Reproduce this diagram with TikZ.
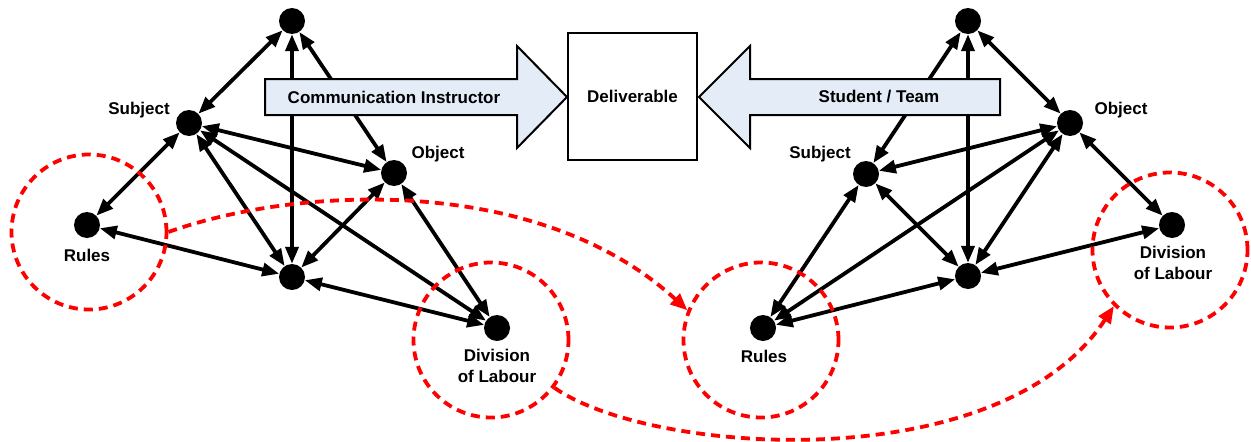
\documentclass[tikz,border=0pt]{standalone}
\usepackage{fontspec}
\setmainfont{Liberation Sans}
\usetikzlibrary{arrows.meta}
\definecolor{arrowfill}{RGB}{228,236,247}
\tikzset{
  dot/.style={circle, fill=black, inner sep=0pt, minimum size=26pt},
  lbl/.style={font=\fontsize{17}{21}\selectfont\bfseries, inner sep=0pt, align=center},
  link/.style={line width=3.8pt, {Triangle[length=17pt,width=13pt]}-{Triangle[length=17pt,width=13pt]}},
  bigarrow/.style={draw=black, line width=2pt, fill=arrowfill, line join=miter},
  zone/.style={circle, draw=red, line width=3.8pt, dash pattern=on 9pt off 6pt, minimum size=155pt, inner sep=0pt},
  transfer/.style={red, line width=3.8pt, dash pattern=on 9pt off 6pt, -{Triangle[length=17pt,width=14pt]}}
}
\begin{document}
\begin{tikzpicture}[x=1pt, y=-1pt]
\useasboundingbox (0,0) rectangle (1251,442);

% ---- activity system of the communication instructor ----
\node[dot] (T1) at (292,21) {};
\node[dot] (S1) at (189,123) {};
\node[dot] (O1) at (394,173) {};
\node[dot] (R1) at (87,225) {};
\node[dot] (C1) at (292,277) {};
\node[dot] (D1) at (497,328) {};

\node[lbl] (lS1) at (139,110) {Subject};
\node[lbl] (lO1) at (438,154) {Object};
\node[lbl] (lR1) at (87,255) {Rules};
\node[lbl] (lD1) at (497,366) {Division\\of Labour};

\foreach \a/\b in {T1/S1, T1/C1, T1/O1, S1/O1, S1/R1, S1/C1, S1/D1, R1/C1, O1/C1, O1/D1, C1/D1}
  \draw[link] (\a) -- (\b);

% ---- activity system of the student / team ----
\node[dot] (T2) at (968,21) {};
\node[dot] (O2) at (1070,123) {};
\node[dot] (S2) at (866,174) {};
\node[dot] (D2) at (1172,225) {};
\node[dot] (C2) at (968,276) {};
\node[dot] (R2) at (763,328) {};

\node[lbl] (lS2) at (820,154) {Subject};
\node[lbl] (lO2) at (1121,110) {Object};
\node[lbl] (lR2) at (764,356) {Rules};
\node[lbl] (lD2) at (1173,263) {Division\\of Labour};

\foreach \a/\b in {T2/O2, T2/S2, T2/C2, S2/O2, O2/D2, O2/C2, O2/R2, D2/C2, S2/C2, S2/R2, R2/C2}
  \draw[link] (\a) -- (\b);

% ---- the shared deliverable and the two contributions ----
\draw[bigarrow] (265,79) -- (517,79) -- (517,46) -- (567,97) -- (517,148) -- (517,115) -- (265,115) -- cycle;
\node[lbl] (ci) at (394,97) {Communication Instructor};

\draw[bigarrow] (1000,79) -- (750,79) -- (750,46) -- (699,97) -- (750,148) -- (750,115) -- (1000,115) -- cycle;
\node[lbl] (st) at (879,97) {Student / Team};

\node[draw, line width=2pt, fill=white, minimum width=129pt, minimum height=127pt, inner sep=0pt] (deliv) at (632.5,96.5) {};
\node[lbl] (dl) at (deliv) {Deliverable};

% ---- boundary-crossing rules and division of labour ----
\node[zone] (zR1) at (89,232) {};
\node[zone] (zD1) at (491,340) {};
\node[zone] (zR2) at (761,340) {};
\node[zone] (zD2) at (1170,250) {};

\draw[transfer] (zR1.east) .. controls (300,185) and (540,175) .. (zR2.158);
\draw[transfer] (zD1.-37) .. controls (650,455) and (1000,480) .. (zD2.-135);
\end{tikzpicture}
\end{document}
